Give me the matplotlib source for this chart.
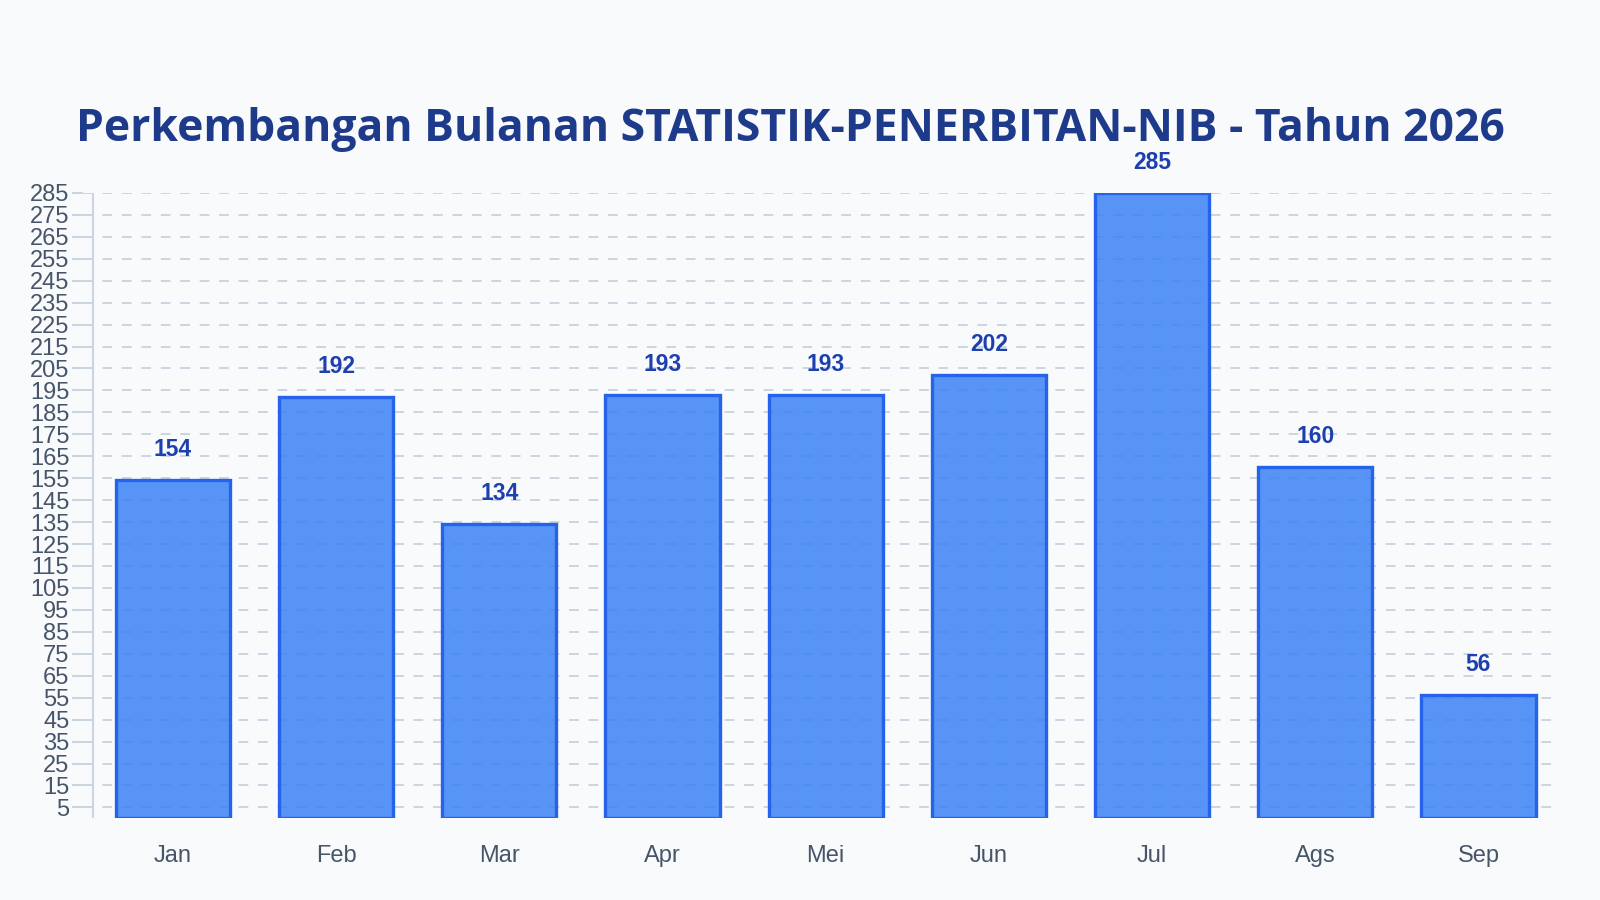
import matplotlib
matplotlib.use("Agg")
import matplotlib.pyplot as plt
import numpy as np

# data
months = ["Jan", "Feb", "Mar", "Apr", "Mei", "Jun", "Jul", "Ags", "Sep"]
values = [154, 192, 134, 193, 193, 202, 285, 160, 56]
yticks = list(range(5, 286, 10))
title = "Perkembangan Bulanan STATISTIK-PENERBITAN-NIB - Tahun 2026"

bg = "#f8fafc"
fig = plt.figure(figsize=(16, 9), dpi=100, facecolor=bg)
ax = fig.add_axes([0.052, 0.0907, 0.923, 0.695])
ax.set_facecolor(bg)

x = np.arange(len(months))
ax.bar(x, values, width=0.7, color=(0.231, 0.510, 0.965, 0.85),
       edgecolor="#2563eb", linewidth=2.4, zorder=2)

for xi, v in zip(x, values):
    ax.annotate(str(v), (xi, v), xytext=(0, 22), textcoords="offset points",
                ha="center", va="center", fontsize=16.5, fontweight="bold",
                color="#1e40af", family="Liberation Sans", zorder=4)

ax.set_xlim(-0.55, 8.5)
ax.set_ylim(0, 285)
ax.set_yticks(yticks)
ax.set_xticks(x)
ax.set_xticklabels(months)

for s in ax.spines.values():
    s.set_visible(False)
# left axis line sits a little to the right of the tick marks
ax.axvline(-0.49, color="#cbd5e1", linewidth=1.5, zorder=1)

ax.yaxis.grid(True, linestyle=(0, (5, 5)), color="#cbd5e1", linewidth=1.4, zorder=0)
ax.set_axisbelow(True)

ax.tick_params(axis="y", length=8, width=1.5, color="#cbd5e1", pad=2,
               labelsize=17, labelcolor="#475569")
ax.tick_params(axis="x", length=0, pad=19, labelsize=17, labelcolor="#475569")
for lab in ax.get_xticklabels() + ax.get_yticklabels():
    lab.set_family("Liberation Sans")

fig.text(0.4937, 0.856, title, ha="center", va="center", fontsize=32,
         fontweight="bold", color="#1e3a8a", family=["Open Sans", "Noto Sans"])

fig.savefig("out.png", dpi=100, facecolor=bg)
